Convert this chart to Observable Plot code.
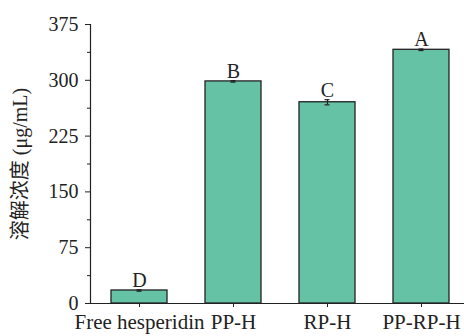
<!DOCTYPE html>
<html>
<head>
<meta charset="utf-8">
<script src="https://cdn.jsdelivr.net/npm/d3@7"></script>
<script src="https://cdn.jsdelivr.net/npm/@observablehq/plot@0.6"></script>
<style>
  html, body { margin: 0; padding: 0; background: #fff; }
</style>
</head>
<body>
<div id="chart"></div>
<script>
const categories = ["Free hesperidin", "PP-H", "RP-H", "PP-RP-H"];
const values = [17.5, 298.5, 270.5, 341];
const errors = [1, 1, 3.5, 1];
const letters = ["D", "B", "C", "A"];
const yTicks = [0, 75, 150, 225, 300, 375];
const yMinorTicks = [37.5, 112.5, 187.5, 262.5, 337.5];
const yLabel = "溶解浓度 (μg/mL)";

const data = categories.map((c, i) => ({cat: c, v: values[i], e: errors[i], l: letters[i]}));
const ink = "#222";

const chart = Plot.plot({
  width: 464,
  height: 336,
  marginLeft: 90,
  marginRight: 0,
  marginTop: 24,
  marginBottom: 33,
  style: {fontFamily: "'Liberation Serif', 'Noto Sans CJK SC', serif", fontSize: "20px", color: ink, background: "#fff"},
  x: {domain: categories, range: [90, 469.5], paddingInner: 0.4, paddingOuter: 0.2, label: null},
  y: {domain: [0, 375], label: null},
  marks: [
    Plot.barY(data, {x: "cat", y: "v", fill: "#66c2a5", stroke: ink, strokeWidth: 1.3}),
    Plot.ruleX(data, {x: "cat", y1: d => d.v - d.e, y2: d => d.v + d.e, stroke: ink, strokeWidth: 1.2}),
    Plot.tickY(data, {x: "cat", y: d => d.v + d.e, stroke: ink, strokeWidth: 1.2, insetLeft: 25.5, insetRight: 25.5}),
    Plot.tickY(data, {x: "cat", y: d => d.v - d.e, stroke: ink, strokeWidth: 1.2, insetLeft: 25.5, insetRight: 25.5}),
    Plot.text(data, {x: "cat", y: d => d.v + d.e, text: "l", lineAnchor: "bottom", dy: -3, fontSize: 20, fill: ink}),
    Plot.axisY({ticks: yTicks, tickSize: 5, tickPadding: 7, fontSize: 20, label: null, stroke: ink}),
    Plot.axisY({ticks: yMinorTicks, tickSize: 3, tickFormat: () => "", label: null, stroke: ink}),
    Plot.axisX({tickSize: 4, tickPadding: 7, fontSize: 21, label: null, stroke: ink}),
    Plot.frame({anchor: "left", stroke: ink, strokeWidth: 1.2}),
    Plot.ruleY([0], {stroke: ink, strokeWidth: 1.2}),
    Plot.text([yLabel], {y: () => 187.5, frameAnchor: "left", textAnchor: "middle", rotate: -90, dx: -70, fontSize: 20, fill: ink})
  ]
});
document.getElementById("chart").appendChild(chart);
</script>
</body>
</html>
